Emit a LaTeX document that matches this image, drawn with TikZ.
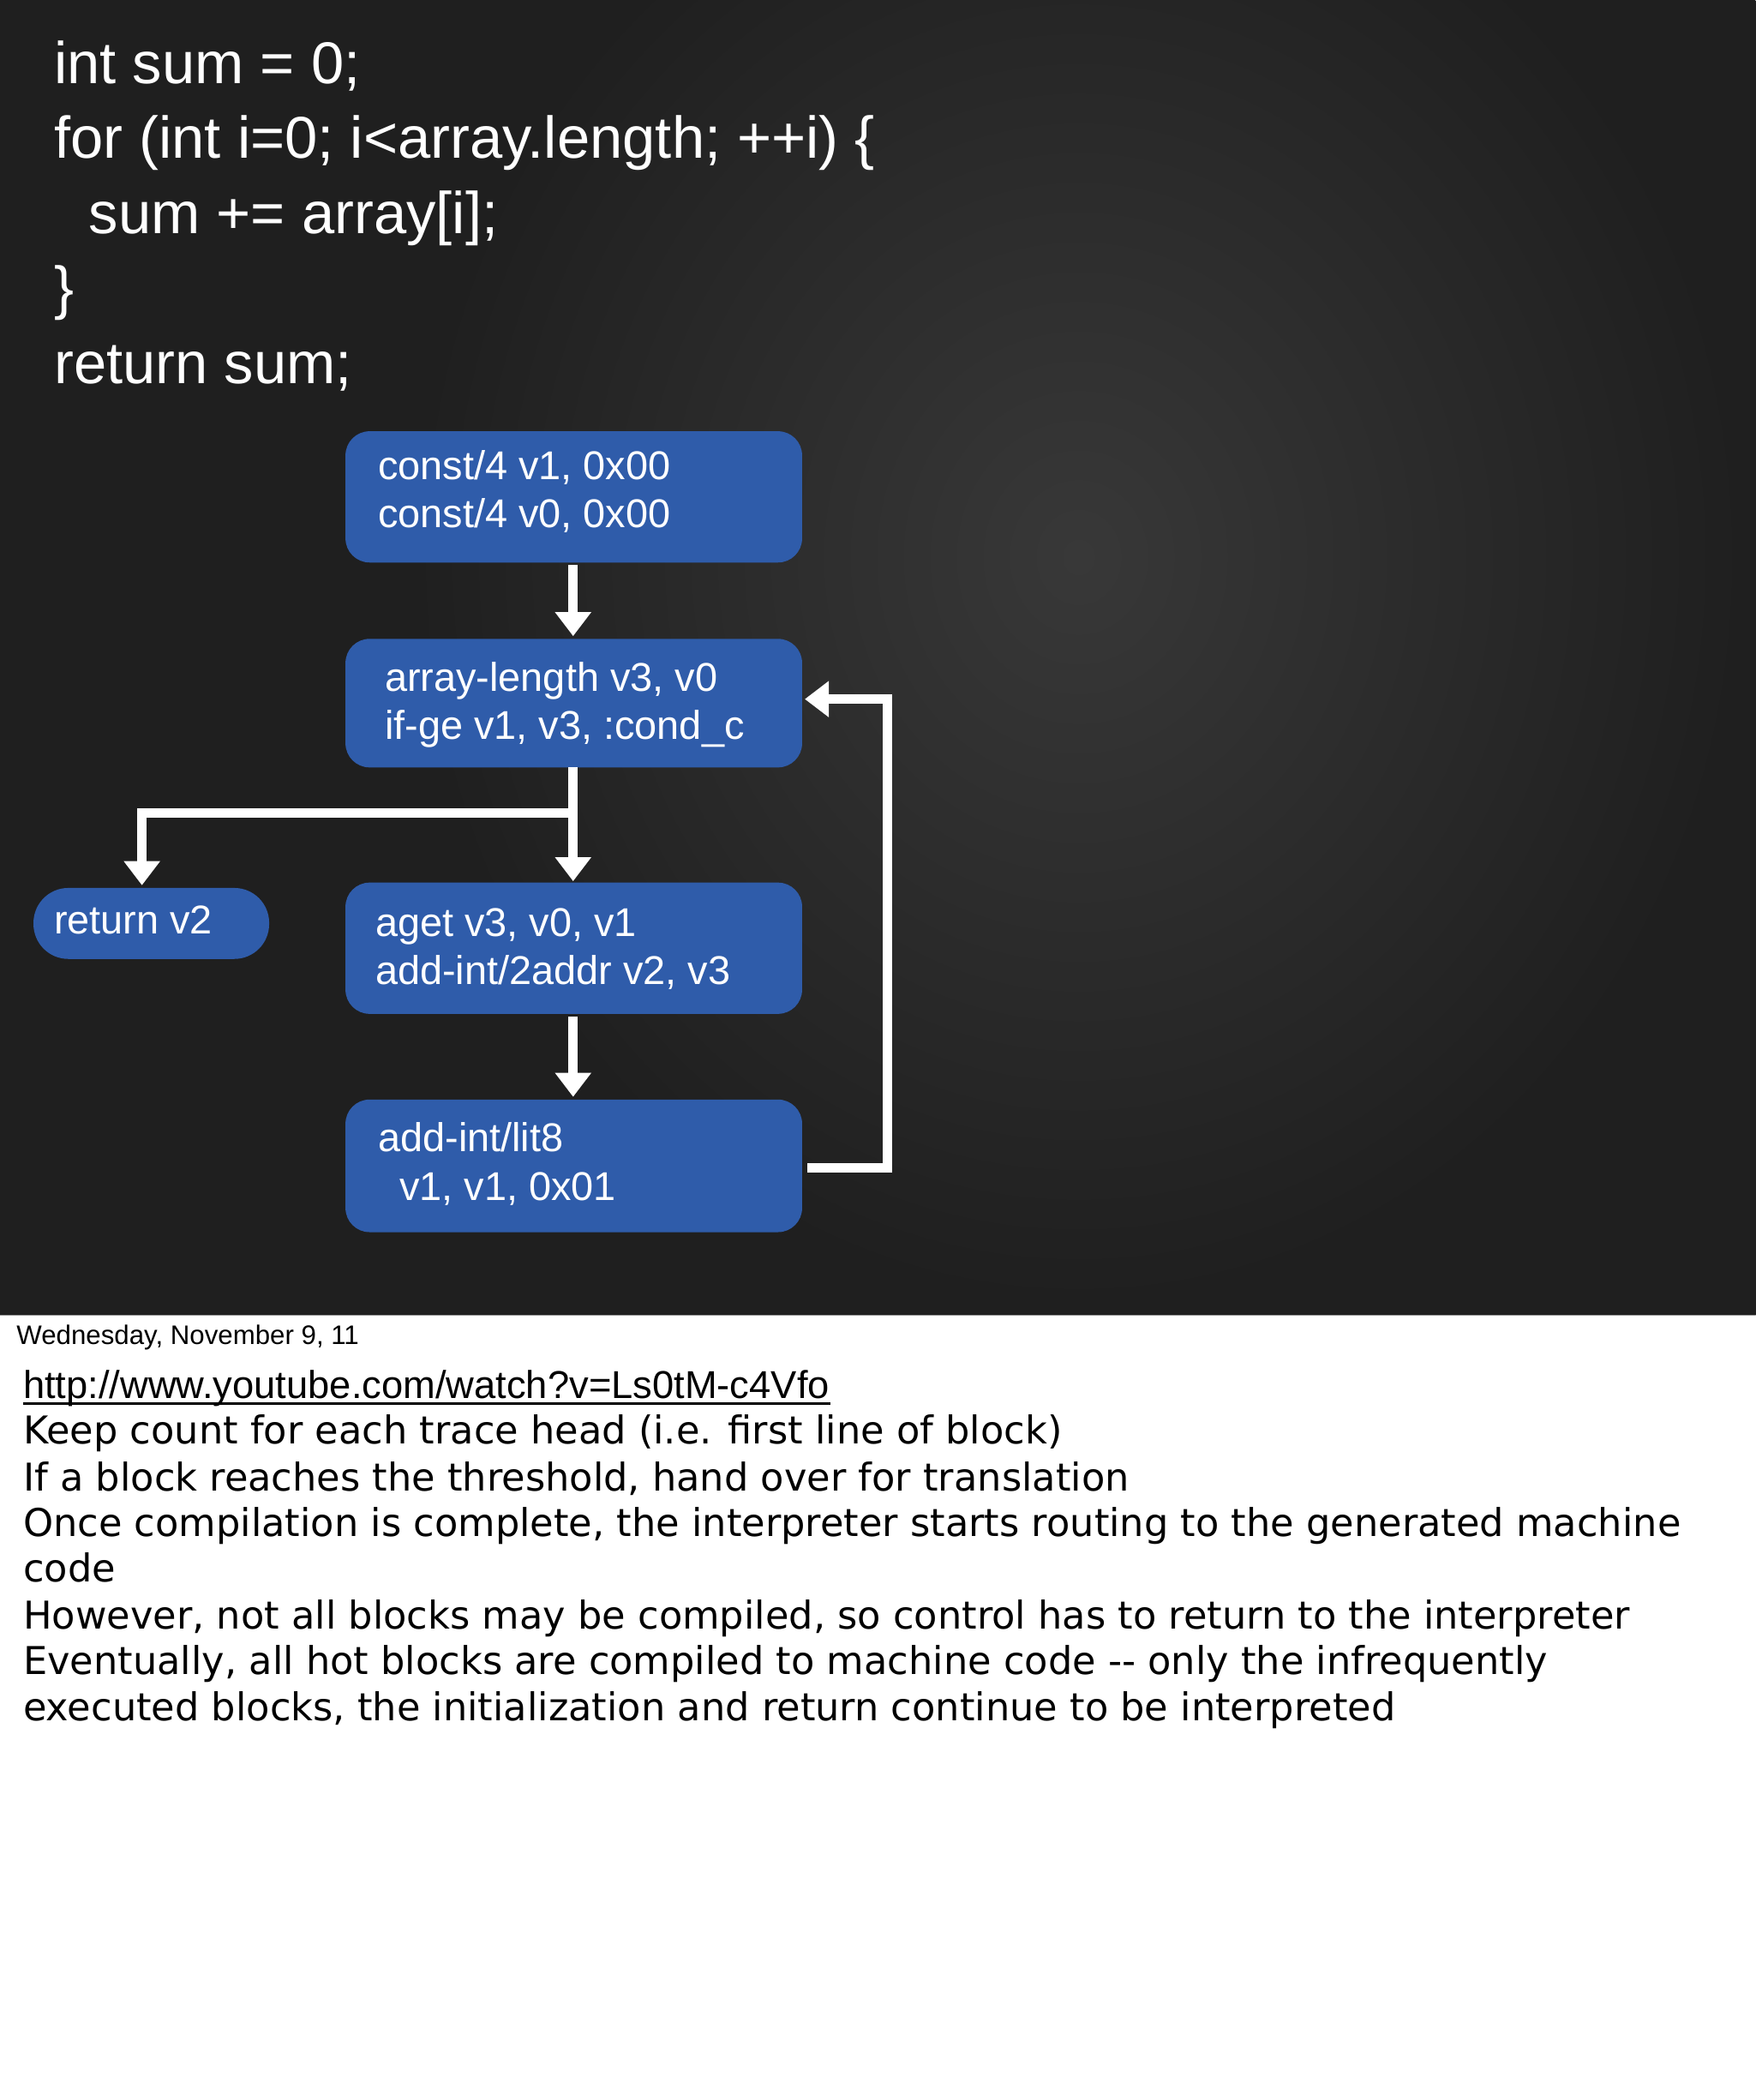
\documentclass[tikz,border=0pt]{standalone}
\usepackage{fontspec}
\setmainfont{Liberation Sans}
\newfontfamily\notefont{DejaVu Sans}
\usetikzlibrary{arrows.meta}
\definecolor{boxblue}{HTML}{2F5CAA}
\tikzset{x=0.5pt,y=-0.5pt,
 blk/.style={draw=none,fill=boxblue,rounded corners=9pt,text=white,font=\fontsize{15}{18}\selectfont,align=left,anchor=north west,inner sep=0pt},
 flow/.style={draw=white,line width=3.5pt,-{Triangle[length=9pt,width=13pt]}},
 note/.style={anchor=base west,inner sep=0pt,font=\notefont\fontsize{14.3}{17}\selectfont}}
\begin{document}
\begin{tikzpicture}
\useasboundingbox (0,0) rectangle (1311,1568);
\fill[white] (0,0) rectangle (1311,1568);
\fill[black!88] (0,0) rectangle (1311,982);
\shade[inner color=black!78,outer color=black!88] (300,-150) rectangle (1311,982);
\node[anchor=north west,text=white,font=\fontsize{22}{28}\selectfont,align=left,inner sep=0pt] (code) at (40,30) {int sum = 0;\\for (int i=0; i<array.length; ++i) \{\\\hspace*{13pt}sum += array[i];\\\}\\return sum;};
% boxes
\fill[boxblue,rounded corners=9pt] (258,322) rectangle (599,420);
\node[blk] (b1) at (282,336) {const/4 v1, 0x00\\const/4 v0, 0x00};
\fill[boxblue,rounded corners=9pt] (258,477) rectangle (599,573);
\node[blk] (b2) at (287,494) {array-length v3, v0\\if-ge v1, v3, :cond\_c};
\fill[boxblue,rounded corners=13pt] (25,663) rectangle (201,716);
\node[blk] (r) at (40,676) {return v2};
\fill[boxblue,rounded corners=9pt] (258,659) rectangle (599,757);
\node[blk] (b3) at (280,678) {aget v3, v0, v1\\add-int/2addr v2, v3};
\fill[boxblue,rounded corners=9pt] (258,821) rectangle (599,920);
\node[blk] (b4) at (282,838) {add-int/lit8\\\hspace*{8pt}v1, v1, 0x01};
\coordinate (a1s) at (428,422); \coordinate (a1e) at (428,475);
\coordinate (a2s) at (428,573); \coordinate (j) at (428,607); \coordinate (a2e) at (428,658);
\coordinate (rl) at (106,607); \coordinate (re) at (106,661);
\coordinate (a3s) at (428,759); \coordinate (a3e) at (428,819);
\coordinate (ls) at (603,872); \coordinate (lc1) at (663,872); \coordinate (lc2) at (663,522); \coordinate (le) at (601,522);
\draw[flow] (a1s) -- (a1e);
\draw[flow] (a2s) -- (a2e);
\draw[flow] (j) -- (rl) -- (re);
\draw[flow] (a3s) -- (a3e);
\draw[flow] (ls) -- (lc1) -- (lc2) -- (le);
% footer
\draw[black!40,line width=0.5pt] (0,982) -- (1311,982);
\node[anchor=base west,inner sep=0pt,font=\fontsize{10}{12}\selectfont] (date) at (12,1004) {Wednesday, November 9, 11};
\node[anchor=base west,inner sep=0pt,font=\fontsize{14.5}{17}\selectfont] (u) at (17,1044) {http://www.youtube.com/watch?v=Ls0tM-c4Vfo};
\draw[line width=0.7pt] ([yshift=-2pt]u.base west) -- ([yshift=-2pt]u.base east);
\node[note] (n1) at (17,1078) {Keep count for each trace head (i.e. first line of block)};
\node[note] (n2) at (17,1113) {If a block reaches the threshold, hand over for translation};
\node[note] (n3) at (17,1147) {Once compilation is complete, the interpreter starts routing to the generated machine};
\node[note] (n4) at (17,1181) {code};
\node[note] (n5) at (17,1216) {However, not all blocks may be compiled, so control has to return to the interpreter};
\node[note] (n6) at (17,1250) {Eventually, all hot blocks are compiled to machine code -{}- only the infrequently};
\node[note] (n7) at (17,1285) {executed blocks, the initialization and return continue to be interpreted};
\end{tikzpicture}
\end{document}
